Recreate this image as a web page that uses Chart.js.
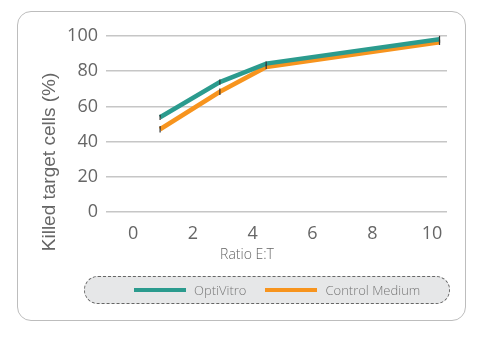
<!DOCTYPE html>
<html>
<head>
<meta charset="utf-8">
<script src="https://cdn.jsdelivr.net/npm/chart.js@4.4.1/dist/chart.umd.min.js"></script>
<style>
  html, body { margin: 0; padding: 0; background: #fff; }
  #wrap { position: relative; width: 490px; height: 344px; }
  #frame {
    position: absolute; left: 17px; top: 11px; width: 449px; height: 310px;
    border: 1.5px solid #bdbdbd; border-radius: 14px; box-sizing: border-box;
  }
  #legend {
    position: absolute; left: 84px; top: 276px; width: 366px; height: 28px;
    border: 1.2px dashed #666; border-radius: 14px; background: #e6e7e8;
    box-sizing: border-box; display: flex; align-items: center; white-space: nowrap;
    font-family: 'Open Sans', sans-serif; font-weight: 300; font-size: 13px; color: #777;
  }
  .item { display: flex; align-items: center; margin-right: 19px; }
  .swatch { width: 52px; height: 4px; margin-right: 8px; }
  canvas { position: absolute; left: 0; top: 0; }
</style>
</head>
<body>
<div id="wrap">
  <div id="frame"></div>
  <canvas id="chart" width="490" height="344"></canvas>
  <div id="legend"></div>
</div>
<script>
const ratios = [0.9, 2.9, 4.45, 10.25]
const optiVitro = [53.8, 73.8, 84.3, 98.1]
const optiVitroErr = [1.5, 1.5, 1.2, 2]
const controlMedium = [47, 68.3, 82.4, 96.4]
const controlMediumErr = [1.8, 1.8, 1.2, 1.5]
const xTicks = [0, 2, 4, 6, 8, 10]
const yTicks = [0, 20, 40, 60, 80, 100]
const xTitle = 'Ratio E:T'
const yTitle = 'Killed target cells (%)'

const TEAL = '#2b9b8e'
const ORANGE = '#f7941e'
const FONT = "'Open Sans', sans-serif"

const toPoints = (xs, ys) => xs.map((x, i) => ({ x, y: ys[i] }))

// whiskers for the small error bars
const errorBars = {
  id: 'errorBars',
  afterDatasetsDraw(chart) {
    const { ctx, scales: { x, y } } = chart
    const errs = [optiVitroErr, controlMediumErr]
    ctx.save()
    ctx.strokeStyle = '#333'
    ctx.lineWidth = 1.2
    chart.data.datasets.forEach((ds, d) => {
      ds.data.forEach((p, i) => {
        const px = x.getPixelForValue(p.x)
        ctx.beginPath()
        ctx.moveTo(px, y.getPixelForValue(p.y - errs[d][i]))
        ctx.lineTo(px, y.getPixelForValue(p.y + errs[d][i]))
        ctx.stroke()
      })
    })
    ctx.restore()
  }
}

// axis titles sit off-centre in the original, so place them by hand
const axisTitles = {
  id: 'axisTitles',
  afterDraw(chart) {
    const { ctx, chartArea: a } = chart
    ctx.save()
    ctx.fillStyle = '#666'
    ctx.textAlign = 'center'
    ctx.textBaseline = 'middle'
    ctx.font = "300 14px 'Open Sans', sans-serif"
    ctx.fillText(xTitle, a.left + 141, a.bottom + 43)
    ctx.translate(a.left - 56, a.bottom - 50)
    ctx.rotate(-Math.PI / 2)
    ctx.font = "19px 'Liberation Sans', Arial, sans-serif"
    ctx.fillText(yTitle, 0, 0)
    ctx.restore()
  }
}

const chart = new Chart(document.getElementById('chart'), {
  type: 'line',
  data: {
    datasets: [
      { label: 'OptiVitro', data: toPoints(ratios, optiVitro), borderColor: TEAL, backgroundColor: TEAL, borderWidth: 4.5 },
      { label: 'Control Medium', data: toPoints(ratios, controlMedium), borderColor: ORANGE, backgroundColor: ORANGE, borderWidth: 4.5 }
    ]
  },
  options: {
    responsive: false,
    animation: false,
    layout: { padding: { left: 30, right: 43, top: 36, bottom: 80 } },
    elements: { point: { radius: 0 }, line: { tension: 0, borderCapStyle: 'butt' } },
    plugins: { legend: { display: false }, tooltip: { enabled: false } },
    scales: {
      x: {
        type: 'linear',
        min: -0.91,
        max: 10.5,
        afterBuildTicks: (s) => { s.ticks = xTicks.map(v => ({ value: v })) },
        grid: { display: false },
        border: { display: false },
        ticks: { color: '#666', padding: 3, font: { family: FONT, size: 18 } },
        afterFit: (s) => { s.height = 52 }
      },
      y: {
        min: 0,
        max: 100,
        afterBuildTicks: (s) => { s.ticks = yTicks.map(v => ({ value: v })) },
        grid: { color: '#c6c6c6', lineWidth: 1.5, drawTicks: false },
        border: { display: false },
        ticks: { color: '#666', padding: 8, font: { family: FONT, size: 18 } },
        afterFit: (s) => { s.width = 76 }
      }
    }
  },
  plugins: [errorBars, axisTitles]
})

const legend = document.getElementById('legend')
legend.style.paddingLeft = '49px'
chart.data.datasets.forEach(ds => {
  const item = document.createElement('div')
  item.className = 'item'
  const sw = document.createElement('span')
  sw.className = 'swatch'
  sw.style.background = ds.borderColor
  const txt = document.createElement('span')
  txt.textContent = ds.label
  item.appendChild(sw)
  item.appendChild(txt)
  legend.appendChild(item)
})
</script>
</body>
</html>
